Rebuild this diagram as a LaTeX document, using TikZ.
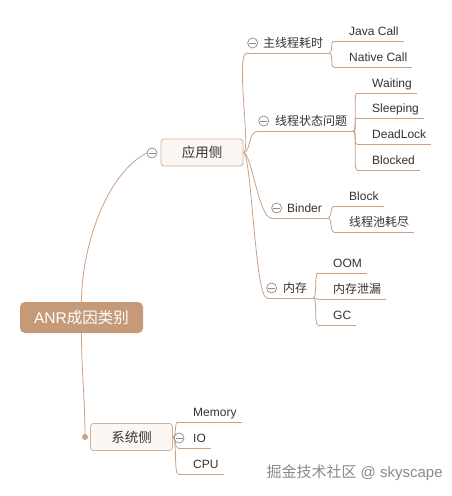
\documentclass[tikz,border=0pt]{standalone}
\usepackage{fontspec}
\setmainfont{Liberation Sans}
\newfontfamily\cjk{Noto Sans CJK SC}
\usepackage{tikz}
\usetikzlibrary{positioning, backgrounds}
\definecolor{RootBrown}{HTML}{C49A78}
\definecolor{StemBrown}{HTML}{C9A286}
\definecolor{BoxFill}{HTML}{FBF7F4}
\definecolor{BoxLine}{HTML}{CDB29D}
\definecolor{InkGray}{HTML}{333333}
\definecolor{FoldGray}{HTML}{8C8C8C}
\definecolor{StampGray}{HTML}{8A8A8A}

\begin{document}
\begin{tikzpicture}[
    x=1pt, y=-1pt,
    root/.style={rectangle, rounded corners=5pt, minimum width=123pt, minimum height=31pt,
                 fill=RootBrown, text=white, font=\fontsize{15.5}{18}\selectfont},
    side/.style={rectangle, rounded corners=3pt, minimum width=82pt, minimum height=27pt,
                 draw=BoxLine, fill=BoxFill, line width=0.8pt, text=InkGray,
                 font=\fontsize{13.5}{16}\selectfont},
    topic/.style={inner xsep=0pt, inner ysep=4pt, text height=10pt, text depth=1.5pt,
                  anchor=west, text=InkGray, font=\fontsize{12}{14}\selectfont},
    fold/.style={circle, draw=FoldGray, fill=white, minimum size=10pt, inner sep=0pt, line width=0.7pt,
                 path picture={\draw[FoldGray, line width=0.7pt]
                   ([xshift=-3.5pt]path picture bounding box.center) -- ([xshift=3.5pt]path picture bounding box.center);}},
    knob/.style={circle, fill=StemBrown, minimum size=6pt, inner sep=0pt},
    stem/.style={draw=StemBrown, line width=0.8pt},
    spray/.style={out=0, in=180, out distance=8pt, in distance=12pt},
    curl/.style={out=0, in=180, distance=4pt},
    stamp/.style={text=StampGray, font=\fontsize{15}{18}\selectfont}
]
\useasboundingbox (0,0) rectangle (452,496);

% centre and the two sides
\node[root] (root) at (81.5,317.5) {ANR\cjk 成因类别};
\node[side] (app) at (202,152.5) {\cjk 应用侧};
\node[side] (sys) at (131.5,437) {\cjk 系统侧};
\node[fold] (appfold) at (152,153) {};
\node[fold] (sysfold) at (179,438) {};
\node[knob] (sysknob) at (85,437) {};

% causes on the app side
\node[topic] (busy) at (263,43) {\cjk 主线程耗时};
\node[fold, left=5pt of busy] (busyfold) {};
\node[topic] (state) at (275,121) {\cjk 线程状态问题};
\node[fold, left=6pt of state] (statefold) {};
\node[topic] (binder) at (287,208) {Binder};
\node[fold, left=5pt of binder] (binderfold) {};
\node[topic] (memory) at (283,288) {\cjk 内存};
\node[fold, left=6pt of memory] (memoryfold) {};

% leaves
\node[topic] (java) at (349,31) {Java Call};
\node[topic] (native) at (349,57) {Native Call};
\node[topic] (waiting) at (372,83) {Waiting};
\node[topic] (sleeping) at (372,108) {Sleeping};
\node[topic] (deadlock) at (372,134) {DeadLock};
\node[topic] (blocked) at (372,160) {Blocked};
\node[topic] (block) at (349,196) {Block};
\node[topic] (pool) at (349,222) {\cjk 线程池耗尽};
\node[topic] (oom) at (333,263) {OOM};
\node[topic] (leak) at (333,289) {\cjk 内存泄漏};
\node[topic] (gc) at (333,315) {GC};
\node[topic] (mem) at (193,412) {Memory};
\node[topic] (io) at (193,438) {IO};
\node[topic] (cpu) at (193,464) {CPU};

% underlines
\draw[stem] ([xshift=-16pt]busy.south west) -- ([xshift=6pt]busy.south east);
\draw[stem] ([xshift=-16pt]state.south west) -- ([xshift=6pt]state.south east);
\draw[stem] ([xshift=-16pt]binder.south west) -- ([xshift=6pt]binder.south east);
\draw[stem] ([xshift=-16pt]memory.south west) -- ([xshift=6pt]memory.south east);
\draw[stem] ([xshift=-15pt]java.south west) -- ([xshift=5pt]java.south east);
\draw[stem] ([xshift=-15pt]native.south west) -- ([xshift=5pt]native.south east);
\draw[stem] ([xshift=-15pt]waiting.south west) -- ([xshift=5pt]waiting.south east);
\draw[stem] ([xshift=-15pt]sleeping.south west) -- ([xshift=5pt]sleeping.south east);
\draw[stem] ([xshift=-15pt]deadlock.south west) -- ([xshift=5pt]deadlock.south east);
\draw[stem] ([xshift=-15pt]blocked.south west) -- ([xshift=5pt]blocked.south east);
\draw[stem] ([xshift=-15pt]block.south west) -- ([xshift=5pt]block.south east);
\draw[stem] ([xshift=-15pt]pool.south west) -- ([xshift=5pt]pool.south east);
\draw[stem] ([xshift=-15pt]oom.south west) -- ([xshift=5pt]oom.south east);
\draw[stem] ([xshift=-15pt]leak.south west) -- ([xshift=5pt]leak.south east);
\draw[stem] ([xshift=-15pt]gc.south west) -- ([xshift=5pt]gc.south east);
\draw[stem] ([xshift=-15pt]mem.south west) -- ([xshift=5pt]mem.south east);
\draw[stem] ([xshift=-15pt]io.south west) -- ([xshift=5pt]io.south east);
\draw[stem] ([xshift=-15pt]cpu.south west) -- ([xshift=5pt]cpu.south east);

\node[stamp, anchor=west] (credit) at (263,473) {{\cjk 掘金技术社区} @ skyscape};

\begin{scope}[on background layer]
\fill[white] (0,0) rectangle (452,496);
\draw[stem] (root.north) .. controls +(0,-52) and +(-42,22) .. (appfold.west);
\draw[stem] (root.south) .. controls +(0,40) and +(0,-40) .. (sysknob.center);

\draw[stem] (app.east) to[spray] ([xshift=-16pt]busy.south west);
\draw[stem] (app.east) to[spray] ([xshift=-16pt]state.south west);
\draw[stem] (app.east) to[spray] ([xshift=-16pt]binder.south west);
\draw[stem] (app.east) to[spray] ([xshift=-16pt]memory.south west);

\draw[stem] ([xshift=6pt]busy.south east) to[curl] ([xshift=-15pt]java.south west);
\draw[stem] ([xshift=6pt]busy.south east) to[curl] ([xshift=-15pt]native.south west);
\draw[stem] ([xshift=6pt]state.south east) to[curl] ([xshift=-15pt]waiting.south west);
\draw[stem] ([xshift=6pt]state.south east) to[curl] ([xshift=-15pt]sleeping.south west);
\draw[stem] ([xshift=6pt]state.south east) to[curl] ([xshift=-15pt]deadlock.south west);
\draw[stem] ([xshift=6pt]state.south east) to[curl] ([xshift=-15pt]blocked.south west);
\draw[stem] ([xshift=6pt]binder.south east) to[curl] ([xshift=-15pt]block.south west);
\draw[stem] ([xshift=6pt]binder.south east) to[curl] ([xshift=-15pt]pool.south west);
\draw[stem] ([xshift=6pt]memory.south east) to[curl] ([xshift=-15pt]oom.south west);
\draw[stem] ([xshift=6pt]memory.south east) to[curl] ([xshift=-15pt]leak.south west);
\draw[stem] ([xshift=6pt]memory.south east) to[curl] ([xshift=-15pt]gc.south west);

\draw[stem] (sys.east) to[curl] ([xshift=-15pt]mem.south west);
\draw[stem] (sys.east) to[curl] ([xshift=-15pt]io.south west);
\draw[stem] (sys.east) to[curl] ([xshift=-15pt]cpu.south west);
\end{scope}

\end{tikzpicture}
\end{document}
